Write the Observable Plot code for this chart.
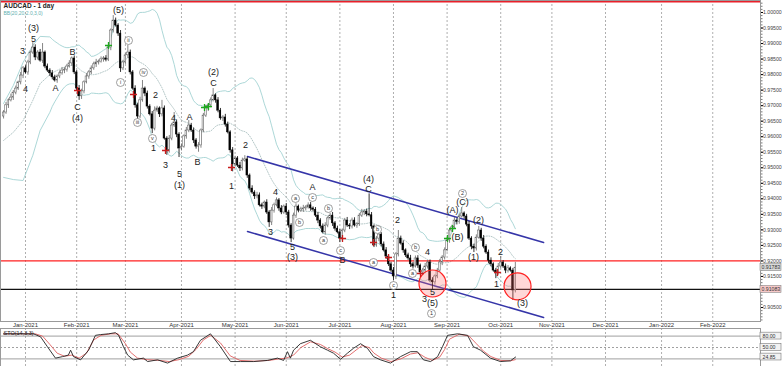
<!DOCTYPE html>
<html><head><meta charset="utf-8">
<script src="https://cdn.jsdelivr.net/npm/d3@7"></script>
<script src="https://cdn.jsdelivr.net/npm/@observablehq/plot@0.6"></script>
<style>
html,body{margin:0;padding:0;background:#fff;}
#chart{width:782px;height:366px;overflow:hidden;position:relative;background:#fff;}
#chart svg{display:block;}
</style></head><body><div id="chart"></div>
<script>
// ---------- data ----------
const firstBar = -9;
const firstOpen = 0.9665;
const closes = [
0.9678,0.9701,0.9717,0.9726,0.9742,0.9755,0.9775,0.9797,0.9820,0.9807,
0.9839,0.9871,0.9887,0.9855,0.9871,0.9845,0.9871,0.9826,0.9813,0.9804,
0.9791,0.9781,0.9794,0.9804,0.9813,0.9816,0.9826,0.9836,0.9852,0.9807,
0.9755,0.9730,0.9746,0.9775,0.9794,0.9807,0.9820,0.9833,0.9839,0.9842,
0.9849,0.9852,0.9848,0.9887,0.9942,0.9974,0.9958,0.9932,0.9820,0.9839,
0.9862,0.9871,0.9807,0.9755,0.9701,0.9665,0.9717,0.9755,0.9739,0.9697,
0.9672,0.9626,0.9684,0.9691,0.9672,0.9691,0.9594,0.9556,0.9594,0.9636,
0.9646,0.9607,0.9562,0.9568,0.9601,0.9620,0.9636,0.9620,0.9588,0.9568,
0.9572,0.9620,0.9668,0.9691,0.9701,0.9717,0.9733,0.9717,0.9684,0.9659,
0.9662,0.9639,0.9614,0.9556,0.9511,0.9530,0.9507,0.9498,0.9523,0.9527,
0.9475,0.9433,0.9420,0.9408,0.9411,0.9379,0.9375,0.9388,0.9356,0.9324,
0.9362,0.9379,0.9395,0.9369,0.9356,0.9375,0.9356,0.9314,0.9272,0.9346,
0.9375,0.9362,0.9366,0.9369,0.9372,0.9379,0.9369,0.9365,0.9346,0.9330,
0.9311,0.9292,0.9314,0.9337,0.9346,0.9321,0.9304,0.9292,0.9272,0.9298,
0.9330,0.9314,0.9311,0.9330,0.9314,0.9318,0.9346,0.9356,0.9359,0.9350,
0.9347,0.9311,0.9250,0.9272,0.9285,0.9253,0.9234,0.9214,0.9189,0.9169,
0.9150,0.9221,0.9272,0.9256,0.9234,0.9218,0.9208,0.9189,0.9182,0.9208,
0.9185,0.9163,0.9169,0.9182,0.9195,0.9137,0.9131,0.9150,0.9169,0.9195,
0.9211,0.9234,0.9266,0.9298,0.9308,0.9330,0.9326,0.9343,0.9353,0.9343,
0.9317,0.9272,0.9246,0.9240,0.9275,0.9298,0.9272,0.9246,0.9227,0.9201,
0.9189,0.9169,0.9163,0.9182,0.9195,0.9182,0.9169,0.9176,0.9169,0.9105,
0.91783];
// wick lengths in pips (1e-4) above / below the body
const wickUp = [
6,9,5,11,7,8,4,10,6,8, 7,5,16,9,6,10,29,5,8,6, 9,7,5,8,10,6,7,9,5,8,
6,10,7,5,9,6,8,7,10,5, 8,6,9,7,5,16,8,6,10,7, 5,23,8,6,9,7,10,26,5,8,
6,9,12,7,5,26,8,6,10,7, 32,8,6,9,5,10,16,7,8,6, 9,5,7,10,6,8,22,5,9,7,
6,10,8,5,9,7,6,10,8,12, 7,5,9,6,10,8,7,5,9,6, 10,7,8,6,9,5,10,7,6,8,
9,5,7,10,6,8,9,5,7,10, 6,8,9,5,7,10,6,8,9,5, 7,10,6,8,9,5,7,10,6,8,
66,9,5,7,10,6,8,9,5,7, 10,6,26,8,9,5,7,10,6,8, 9,5,7,10,6,8,9,5,7,10,
6,8,9,5,7,10,6,8,19,5, 7,10,6,8,9,13,7,10,6,8, 9,5,7,10,19,6,8,9,5,7,
17];
const wickDn = [
8,6,10,5,9,7,6,8,10,5, 9,7,6,10,8,5,9,7,6,10, 8,5,9,7,6,10,8,5,9,7,
6,13,10,8,5,9,7,6,10,8, 5,9,7,6,10,8,5,9,13,7, 6,10,8,5,9,13,7,6,10,8,
5,16,7,6,10,8,5,16,9,7, 6,10,29,8,5,9,7,6,10,8, 18,9,7,6,10,8,5,9,7,6,
10,8,5,9,24,7,6,10,8,5, 9,7,6,10,8,5,9,7,6,16, 10,8,5,9,7,6,10,8,13,5,
9,7,6,10,8,5,9,7,6,10, 8,5,9,7,6,10,8,5,13,9, 7,6,10,8,5,9,7,6,10,8,
5,9,7,6,10,8,5,9,7,6, 13,10,8,5,9,7,6,10,8,5, 9,7,6,10,8,5,26,9,7,6,
10,8,5,9,7,6,10,8,5,9, 7,6,10,13,8,5,9,7,6,10, 8,5,20,9,7,6,10,8,5,32,
8];

// Bollinger band values read for the first bars (window reaches before the chart)
const bbEarlyBar   = [-9, -5, -1, 3, 6];
const bbEarlyUpper = [0.9707, 0.9765, 0.9839, 0.9894, 0.9923];
const bbEarlyMid   = [0.9588, 0.9614, 0.9652, 0.9717, 0.9771];
const bbEarlyLower = [0.9469, 0.9462, 0.9459, 0.9540, 0.9620];

const monthBars = [0, 21, 41, 64, 86, 107, 129, 151, 173, 195, 216, 238, 261, 282];
const monthLabels = ["Jan-2021","Feb-2021","Mar-2021","Apr-2021","May-2021","Jun-2021","Jul-2021","Aug-2021","Sep-2021","Oct-2021","Nov-2021","Dec-2021","Jan-2022","Feb-2022"];
const priceTicks = [0.905,0.910,0.915,0.920,0.925,0.930,0.935,0.940,0.945,0.950,0.955,0.960,0.965,0.970,0.975,0.980,0.985,0.990,0.995,1.000];

const channelBars  = [91.1, 212.6];
const channelUpper = [0.95363, 0.92594];
const channelLower = [0.92948, 0.90179];

const levelRed = 0.92000;
const levelBlack = 0.91083;
const levelTop = 1.00354;
const tagPrices = [0.91783, 0.91083];
const tagLabels = ["0.91783", "0.91083"];

const waveBar   = [38.16,3.28,3.28,-1.23,0,12.31,19.29,21.34,21.34,52.52,53.34,57.45,60.73,63.19,63.19,67.30,70.58,77.14,77.14,84.53,90.27,102.58,100.53,109.56,109.56,117.77,130.08,140.75,140.75,152.65,151.01,164.96,163.73,167.01,167.01,175.22,177.27,179.32,183.83,185.88,193.27,194.91,203.94];
const wavePrice = [1.00064,0.99500,0.99150,0.98744,0.97520,0.97552,0.98712,0.96941,0.96600,0.95620,0.97327,0.95073,0.96586,0.94783,0.94429,0.96619,0.95170,0.97730,0.98070,0.94397,0.95717,0.94204,0.92916,0.92433,0.92111,0.94365,0.92014,0.94650,0.94320,0.93302,0.90887,0.92272,0.90758,0.90984,0.90630,0.93624,0.92755,0.93882,0.92111,0.93302,0.91241,0.92272,0.90630];
const waveText  = ["(5)","(3)","5","3","4","A","B","C","(4)","1","2","3","4","5","(1)","A","B","C","(2)","1","2","4","3","5","(3)","A","B","(4)","C","2","1","4","3","5","(5)","(A)","(B)","(C)","(1)","(2)","1","2","(3)"];

const circBar   = [38.98,42.27,45.96,48.42,52.11,110.79,112.43,117.77,124.33,122.28,129.26,144.44,142.80,151.01,160.03,158.80,179.32,166.60];
const circPrice = [0.97746,0.99098,0.96458,0.98068,0.95942,0.94011,0.93238,0.94043,0.93688,0.92658,0.92336,0.93012,0.91950,0.91209,0.92433,0.91596,0.94172,0.90307];
const circText  = ["i","ii","iii","iv","v","a","b","c","b","a","c","b","a","c","b","a","2","1"];

const redMarkBar   = [21.34,44.32,57.45,84.53,130.08,142.80,148.95,162.08,193.68];
const redMarkPrice = [0.97488,0.97359,0.95556,0.95009,0.92722,0.92593,0.92111,0.91596,0.91628];
const greenMarkBar   = [34.06,73.45,75.09,173.16,175.22];
const greenMarkPrice = [0.98937,0.96941,0.96973,0.92722,0.93044];

const ringBar = [167.0, 201.9];
const ringPrice = [0.91273, 0.91183];

// stochastic oscillator
const kBar = [-9,3.3,6.2,9,12.3,15.2,17.6,18.5,19.7,22.6,25.9,28.7,30.8,34.1,36.9,38.2,40.2,41.9,44.3,48.4,50.1,54.2,58.3,62.4,66.5,68.9,71.8,75.9,80,84.1,88.2,93.6,99.3,103.4,105.9,107.5,108.7,110,112.8,116.9,121,123.9,126.4,129.3,132.1,134.6,137.5,140.3,142.8,145.7,149.8,153.9,158,160.8,163.3,166.2,169.1,171.1,173.2,177.3,181.4,183.8,186.7,190.8,194.9,199,201.1];
const kVal = [86,86,78,52,22,26,30,43,26,17.5,43,82,84,86,89,82,52,30,17.5,22,13,17.5,9,22,30,39,69,86,52,13,13,13,16,22,16,39,22,43,60,69,52,43,35,19,35,48,60,48,26,17.5,9,26,39,39,17.5,13,26,52,82,86,82,52,43,22,13,15,24.85];
const dBar = [-9,4,7,10,13,16,19,22,25,28,31,35,38,41,43,46,50,55,59,63,67,70,73,76,80,84,88,94,100,104,107,110,113,117,121,124,127,130,133,136,138,141,143,146,150,154,158,161,164,167,170,172,174,178,182,185,188,191,195,199,201];
const dVal = [86,86,80,58,35,27,30,22,35,70,82,86,86,60,38,22,18,16,13,18,27,45,70,82,62,28,16,14,16,20,22,30,50,65,58,47,38,25,30,45,55,50,35,22,13,20,33,36,24,16,25,45,72,85,80,60,40,26,16,15,18];
const oscLevels = [80, 50, 20];
const oscTagVals = [80, 50, 24.85];
const oscTagLabels = ["80.00", "50.00", "24.85"];

// ---------- derived tables ----------
const candles = closes.map((c, j) => {
  const o = j ? closes[j - 1] : firstOpen;
  return {i: firstBar + j, open: o, close: c,
    high: Math.max(o, c) + wickUp[j] * 1e-4,
    low: Math.min(o, c) - wickDn[j] * 1e-4, up: c >= o};
});
const bands = bbEarlyBar.map((b, k) => ({i: b, u: bbEarlyUpper[k], m: bbEarlyMid[k], l: bbEarlyLower[k]}));
for (let j = 19; j < closes.length; j++) {
  const w = closes.slice(j - 19, j + 1);
  const m = d3.mean(w);
  const sd = Math.sqrt(d3.mean(w, v => (v - m) * (v - m)));
  bands.push({i: firstBar + j, u: m + 2 * sd, m, l: m - 2 * sd});
}
const zip = (a, b, c) => a.map((v, k) => ({x: v, y: b[k], t: c ? c[k] : null}));
const waves = zip(waveBar, wavePrice, waveText);
const circs = zip(circBar, circPrice, circText);
const reds = zip(redMarkBar, redMarkPrice);
const greens = zip(greenMarkBar, greenMarkPrice);
const rings = zip(ringBar, ringPrice);
const chanU = zip(channelBars, channelUpper);
const chanL = zip(channelBars, channelLower);
const kLine = zip(kBar, kVal);
const dLine = zip(dBar, dVal);
const labelMap = new Map(monthBars.map((b, k) => [b, monthLabels[k]]));

// ---------- layout ----------
const W = 782, MAINH = 328, OSCH = 38, MR = 22, MB = 7;
const xDomain = [-10.26, 301.6];
const yDomain = [0.90050, 1.00386];
const plotW = W - MR;
const barPx = plotW / (xDomain[1] - xDomain[0]);
const pricePx = (yDomain[1] - yDomain[0]) / (MAINH - MB);
const xEnd = xDomain[1];
const tagW = 21 / barPx;
const tags = tagPrices.map((p, k) => ({p, t: tagLabels[k], y1: p - 3.5 * pricePx, y2: p + 3.5 * pricePx, fill: k === 0 ? "#d8d8d8" : "#f6c8c8"}));
// tick labels hidden behind a price tag are not drawn
const shownTicks = priceTicks.filter(t => tagPrices.every(p => Math.abs(p - t) > 5 * pricePx));
const minorTicks = d3.range(0.901, 1.0035, 0.001);
const font = "'Liberation Sans', Arial, sans-serif";
const bandColor = "#a3d3d3";

const main = Plot.plot({
  width: W, height: MAINH, marginTop: 0, marginRight: MR, marginBottom: MB, marginLeft: 0,
  x: {domain: xDomain},
  y: {domain: yDomain},
  style: {fontFamily: font, background: "white", overflow: "visible"},
  marks: [
    Plot.ruleX(monthBars, {stroke: "#9a9a9a", strokeWidth: 0.8, strokeDasharray: "2,2"}),
    Plot.line(bands, {x: "i", y: "u", stroke: bandColor, strokeWidth: 0.9}),
    Plot.line(bands, {x: "i", y: "l", stroke: bandColor, strokeWidth: 0.9}),
    Plot.line(bands, {x: "i", y: "m", stroke: "#9fb8b8", strokeWidth: 0.8, strokeDasharray: "1,1.5"}),
    Plot.ruleY([levelTop], {stroke: "#e8202a", strokeWidth: 2}),
    Plot.ruleY([levelRed], {stroke: "#ff2020", strokeWidth: 1.3}),
    Plot.ruleY([levelBlack], {stroke: "#111", strokeWidth: 1.2}),
    Plot.line(chanU, {x: "x", y: "y", stroke: "#3535a8", strokeWidth: 1.5}),
    Plot.line(chanL, {x: "x", y: "y", stroke: "#3535a8", strokeWidth: 1.5}),
    Plot.ruleX(candles, {x: "i", y1: "low", y2: "high", stroke: d => d.up ? "#666" : "#000", strokeWidth: 0.8}),
    Plot.rect(candles, {x1: d => d.i - 0.34, x2: d => d.i + 0.34, y1: "open", y2: "close",
      fill: d => d.up ? "#fff" : "#000", stroke: d => d.up ? "#555" : "#000", strokeWidth: 0.5}),
    Plot.dot(rings, {x: "x", y: "y", r: 13.5, fill: "rgba(255,110,110,0.28)", stroke: "#f22", strokeWidth: 1.2}),
    Plot.dot(reds, {x: "x", y: "y", symbol: "plus", r: 2.4, stroke: "#c81e1e", strokeWidth: 1.3}),
    Plot.dot(greens, {x: "x", y: "y", symbol: "plus", r: 2.4, stroke: "#1ea81e", strokeWidth: 1.3}),
    Plot.text(waves, {x: "x", y: "y", text: "t", fontSize: 9, fill: "#222"}),
    Plot.dot(circs, {x: "x", y: "y", r: 4, fill: "white", stroke: "#777", strokeWidth: 0.7}),
    Plot.text(circs, {x: "x", y: "y", text: "t", fontSize: 5.5, fill: "#333"}),
    Plot.frame({stroke: "#9a9a9a"}),
    Plot.axisY({anchor: "right", ticks: minorTicks, tickSize: 1.5, tickFormat: () => "", label: null, stroke: "#777"}),
    Plot.axisY({anchor: "right", ticks: shownTicks, tickSize: 2, tickPadding: 0.5, tickFormat: d3.format(".5f"), fontSize: 5.2, fill: "#444", label: null}),
    Plot.rect(tags, {x1: xEnd, x2: xEnd + tagW, y1: "y1", y2: "y2", fill: "fill", stroke: "#888", strokeWidth: 0.6}),
    Plot.text(tags, {x: xEnd, y: "p", text: "t", textAnchor: "start", dx: 1, fontSize: 5.2, fill: "#333"}),
    Plot.axisX({anchor: "bottom", ticks: monthBars, tickFormat: d => labelMap.get(d), tickSize: 0, tickPadding: 1.5, fontSize: 6, fill: "#333", label: null}),
    Plot.text(["AUDCAD - 1 day"], {frameAnchor: "top-left", dx: 3, dy: 3, fontSize: 6.5, fontWeight: "bold", fill: "#222"}),
    Plot.text(["BB(20,20,2.0,3,0)"], {frameAnchor: "top-left", dx: 3, dy: 11, fontSize: 5, fill: "#5fb0b0"})
  ]
});

const oscTags = oscTagVals.map((v, k) => ({v, t: oscTagLabels[k], y1: v - 9, y2: v + 9}));
const osc = Plot.plot({
  width: W, height: OSCH, marginTop: 0, marginRight: MR, marginBottom: 0, marginLeft: 0,
  x: {domain: xDomain, axis: null},
  y: {domain: [0, 100], axis: null},
  style: {fontFamily: font, background: "white", overflow: "visible"},
  marks: [
    Plot.ruleX(monthBars, {stroke: "#9a9a9a", strokeWidth: 0.8, strokeDasharray: "2,2"}),
    Plot.ruleY([oscLevels[0], oscLevels[2]], {stroke: "#888", strokeWidth: 0.8}),
    Plot.ruleY([oscLevels[1]], {stroke: "#888", strokeWidth: 0.8, strokeDasharray: "2,2"}),
    Plot.line(dLine, {x: "x", y: "y", stroke: "#e06060", strokeWidth: 0.9}),
    Plot.line(kLine, {x: "x", y: "y", stroke: "#222", strokeWidth: 0.9}),
    Plot.frame({stroke: "#9a9a9a"}),
    Plot.rect(oscTags, {x1: xEnd, x2: xEnd + tagW, y1: "y1", y2: "y2", fill: "#f2f2f2", stroke: "#777", strokeWidth: 0.6}),
    Plot.text(oscTags, {x: xEnd, y: "v", text: "t", textAnchor: "start", dx: 2, fontSize: 5.2, fill: "#333"}),
    Plot.text(["STO(14,3,3)"], {frameAnchor: "top-left", dx: 3, dy: 3, fontSize: 5.5, fill: "#222"})
  ]
});

const root = document.getElementById("chart");
root.appendChild(main);
root.appendChild(osc);
</script></body></html>
